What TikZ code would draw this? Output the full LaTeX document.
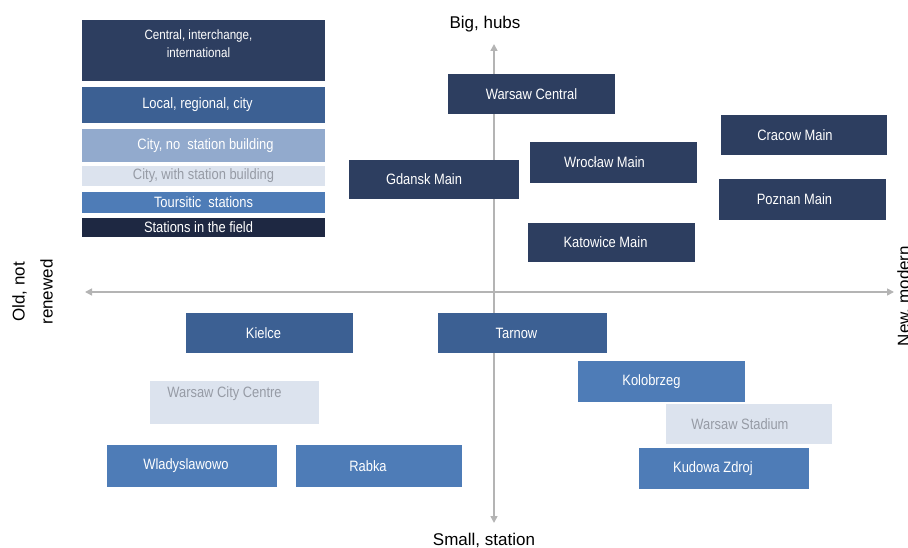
\documentclass[tikz,border=0pt]{standalone}
\usepackage{fontspec}
\setmainfont{Liberation Sans}
\newfontfamily\nrw[FakeStretch=0.86]{Liberation Sans}
\usetikzlibrary{arrows.meta}
\definecolor{cNavy}{RGB}{45,62,96}
\definecolor{cMid}{RGB}{60,96,147}
\definecolor{cLight}{RGB}{78,124,183}
\definecolor{cPale}{RGB}{146,170,205}
\definecolor{cGhost}{RGB}{220,227,238}
\definecolor{cGhostTxt}{RGB}{150,155,165}
\definecolor{cField}{RGB}{30,40,66}
\definecolor{cAxis}{RGB}{180,180,180}
\tikzset{
  boxbase/.style={rectangle,draw=none,inner sep=0pt,outer sep=0pt},
  lbl/.style={inner sep=0pt,align=center,font=\nrw\fontsize{15}{18}\selectfont},
  hub/.style={fill=cNavy,text=white},
  mid/.style={fill=cMid,text=white},
  light/.style={fill=cLight,text=white},
  pale/.style={fill=cPale,text=white},
  ghost/.style={fill=cGhost,text=cGhostTxt},
  field/.style={fill=cField,text=white},
  axis/.style={draw=cAxis,line width=1.6pt,{Triangle[length=7pt,width=7pt]}-{Triangle[length=7pt,width=7pt]}},
  axlbl/.style={inner sep=0pt,align=center,font=\fontsize{17}{28}\selectfont}
}
\newcommand\stbox[8]{%
  \node[boxbase,#6,minimum width={(#4-#2)*1pt},minimum height={(#5-#3)*1pt}] (#1) at ({(#2+#4)/2},{(#3+#5)/2}) {};
  \node[lbl,#6,fill=none,#8] at (#1.center) {#7};}
\begin{document}
\begin{tikzpicture}[x=1pt,y=-1pt]
\useasboundingbox (0,0) rectangle (908,548);
% axes
\coordinate (vtop) at (494,44);
\coordinate (vbot) at (494,523);
\coordinate (hl) at (85,292);
\coordinate (hr) at (894,292);
\draw[axis] (vbot) -- (vtop);
\draw[axis] (hl) -- (hr);
\node[axlbl] (big) at (485,24) {Big, hubs};
\node[axlbl] (small) at (484,540) {Small, station};
\node[axlbl,rotate=90,anchor=north] (old) at (12,292) {Old, not\\renewed};
\node[axlbl,rotate=90,anchor=north] (new) at (897,296) {New, modern};
% legend
\stbox{legA}{82}{20}{325}{81}{hub}{Central, interchange,\\international}{font=\nrw\fontsize{13.5}{18}\selectfont,xshift=-5pt,yshift=7pt}
\stbox{legB}{82}{87}{325}{123}{mid}{Local, regional, city}{xshift=-6pt}
\stbox{legC}{82}{129}{325}{162}{pale}{City, no\ \ station building}{xshift=2pt}
\stbox{legD}{82}{166}{325}{186}{ghost}{City, with station building}{}
\stbox{legE}{82}{192}{325}{213}{light}{Toursitic\ \ stations}{}
\stbox{legF}{82}{218}{325}{237}{field}{Stations in the field}{xshift=-5pt}
% stations
\stbox{wc}{448}{74}{615}{114}{hub}{Warsaw Central}{}
\stbox{cr}{721}{115}{887}{155}{hub}{Cracow Main}{xshift=-9pt}
\stbox{wr}{530}{142}{697}{183}{hub}{Wrocław Main}{xshift=-9pt}
\stbox{gd}{349}{160}{519}{199}{hub}{Gdansk Main}{xshift=-10pt}
\stbox{pz}{719}{179}{886}{220}{hub}{Poznan Main}{xshift=-8pt}
\stbox{kt}{528}{223}{695}{262}{hub}{Katowice Main}{xshift=-6pt}
\stbox{ki}{186}{313}{353}{353}{mid}{Kielce}{xshift=-6pt}
\stbox{ta}{438}{313}{607}{353}{mid}{Tarnow}{xshift=-6pt}
\stbox{ko}{578}{361}{745}{402}{light}{Kolobrzeg}{xshift=-10pt}
\stbox{wcc}{150}{381}{319}{424}{ghost}{Warsaw City Centre}{xshift=-10pt,yshift=9pt}
\stbox{ws}{666}{404}{832}{444}{ghost}{Warsaw Stadium}{xshift=-9pt}
\stbox{wl}{107}{445}{277}{487}{light}{Wladyslawowo}{xshift=-6pt}
\stbox{rb}{296}{445}{462}{487}{light}{Rabka}{xshift=-11pt}
\stbox{kz}{639}{448}{809}{489}{light}{Kudowa Zdroj}{xshift=-11pt}
\end{tikzpicture}
\end{document}
